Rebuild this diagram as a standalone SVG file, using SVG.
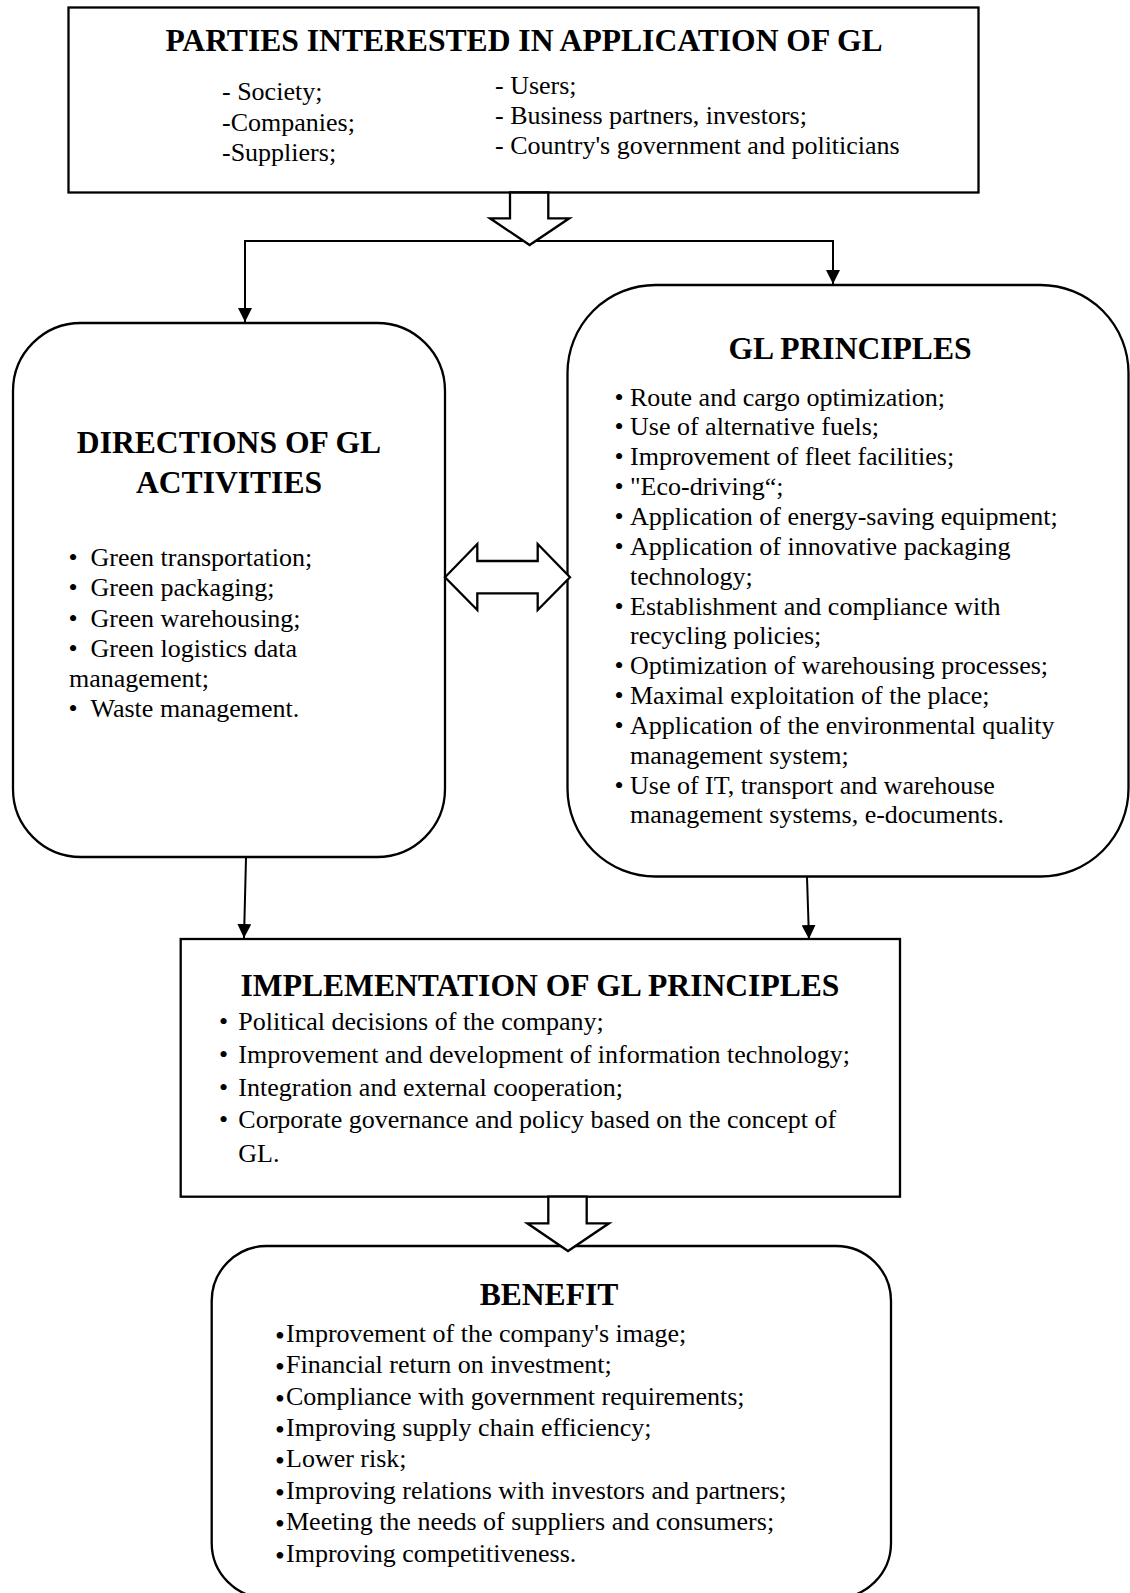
<svg xmlns="http://www.w3.org/2000/svg" width="1130" height="1593" viewBox="0 0 1130 1593">
<defs>
<style>
text{font-family:"Liberation Serif","Times New Roman",serif;fill:#000}
.t{font-size:31.6px;font-weight:bold;text-anchor:middle}
.b{font-size:26px}
.box{fill:#fff;stroke:#000;stroke-width:2.3}
.con{fill:none;stroke:#000;stroke-width:2}
.hol{fill:#fff;stroke:#000;stroke-width:2.3;stroke-linejoin:miter}
.bb{font-size:28px}
</style>
<marker id="ah" markerWidth="14" markerHeight="14" refX="14" refY="7" orient="auto" markerUnits="userSpaceOnUse"><path d="M0,0 L14,7 L0,14 z" fill="#000"/></marker>
</defs>
<rect width="1130" height="1593" fill="#fff"/>

<g id="parties">
<rect class="box" x="68.5" y="7.5" width="910" height="185"/>
<text class="t" x="524" y="51">PARTIES INTERESTED IN APPLICATION OF GL</text>
<text class="b" x="222" y="100">- Society;</text>
<text class="b" x="222" y="130.5">-Companies;</text>
<text class="b" x="222" y="160.5">-Suppliers;</text>
<text class="b" x="495" y="93.5">- Users;</text>
<text class="b" x="495" y="124">- Business partners, investors;</text>
<text class="b" x="495" y="154">- Country's government and politicians</text>
</g>

<g id="directions">
<rect class="box" x="13" y="323" width="432" height="534" rx="68" ry="68"/>
<text class="t" x="229" y="452.5">DIRECTIONS OF GL</text>
<text class="t" x="229" y="492.5">ACTIVITIES</text>
<text class="b" x="68.5" y="566">• <tspan x="90.5">Green transportation;</tspan></text>
<text class="b" x="68.5" y="596.3">• <tspan x="90.5">Green packaging;</tspan></text>
<text class="b" x="68.5" y="627">• <tspan x="90.5">Green warehousing;</tspan></text>
<text class="b" x="68.5" y="657">• <tspan x="90.5">Green logistics data</tspan></text>
<text class="b" x="69" y="686.6">management;</text>
<text class="b" x="68.5" y="716.5">• <tspan x="90.5">Waste management.</tspan></text>
</g>

<g id="principles">
<rect class="box" x="567.5" y="285" width="561" height="591.5" rx="88" ry="88"/>
<text class="t" x="850" y="359">GL PRINCIPLES</text>
<text class="b" x="614.5" y="405.5">• <tspan x="630">Route and cargo optimization;</tspan></text>
<text class="b" x="614.5" y="435.4">• <tspan x="630">Use of alternative fuels;</tspan></text>
<text class="b" x="614.5" y="465.2">• <tspan x="630">Improvement of fleet facilities;</tspan></text>
<text class="b" x="614.5" y="495.1">• <tspan x="630">"Eco-driving“;</tspan></text>
<text class="b" x="614.5" y="524.9">• <tspan x="630">Application of energy-saving equipment;</tspan></text>
<text class="b" x="614.5" y="554.8">• <tspan x="630">Application of innovative packaging</tspan></text>
<text class="b" x="630" y="584.6">technology;</text>
<text class="b" x="614.5" y="614.5">• <tspan x="630">Establishment and compliance with</tspan></text>
<text class="b" x="630" y="644.3">recycling policies;</text>
<text class="b" x="614.5" y="674.2">• <tspan x="630">Optimization of warehousing processes;</tspan></text>
<text class="b" x="614.5" y="704">• <tspan x="630">Maximal exploitation of the place;</tspan></text>
<text class="b" x="614.5" y="733.9">• <tspan x="630">Application of the environmental quality</tspan></text>
<text class="b" x="630" y="763.7">management system;</text>
<text class="b" x="614.5" y="793.6">• <tspan x="630">Use of IT, transport and warehouse</tspan></text>
<text class="b" x="630" y="823.4">management systems, e-documents.</text>
</g>

<g id="implementation">
<rect class="box" x="180.7" y="939" width="719.3" height="257.7"/>
<text class="t" x="540" y="995.7">IMPLEMENTATION OF GL PRINCIPLES</text>
<text class="b" x="219" y="1030">• <tspan x="238.3">Political decisions of the company;</tspan></text>
<text class="b" x="219" y="1062.5">• <tspan x="238.3">Improvement and development of information technology;</tspan></text>
<text class="b" x="219" y="1095.5">• <tspan x="238.3">Integration and external cooperation;</tspan></text>
<text class="b" x="219" y="1128">• <tspan x="238.3">Corporate governance and policy based on the concept of</tspan></text>
<text class="b" x="238.3" y="1161.5">GL.</text>
</g>

<g id="benefit">
<rect class="box" x="211.7" y="1246" width="679.3" height="352" rx="55" ry="55"/>
<text class="t" x="549" y="1305">BENEFIT</text>
<text class="b" x="275" y="1341.7"><tspan class="bb" dy="3">•</tspan><tspan x="286" y="1341.7">Improvement of the company's image;</tspan></text>
<text class="b" x="275" y="1373.1"><tspan class="bb" dy="3">•</tspan><tspan x="286" y="1373.1">Financial return on investment;</tspan></text>
<text class="b" x="275" y="1404.5"><tspan class="bb" dy="3">•</tspan><tspan x="286" y="1404.5">Compliance with government requirements;</tspan></text>
<text class="b" x="275" y="1435.9"><tspan class="bb" dy="3">•</tspan><tspan x="286" y="1435.9">Improving supply chain efficiency;</tspan></text>
<text class="b" x="275" y="1467.3"><tspan class="bb" dy="3">•</tspan><tspan x="286" y="1467.3">Lower risk;</tspan></text>
<text class="b" x="275" y="1498.7"><tspan class="bb" dy="3">•</tspan><tspan x="286" y="1498.7">Improving relations with investors and partners;</tspan></text>
<text class="b" x="275" y="1530.1"><tspan class="bb" dy="3">•</tspan><tspan x="286" y="1530.1">Meeting the needs of suppliers and consumers;</tspan></text>
<text class="b" x="275" y="1561.5"><tspan class="bb" dy="3">•</tspan><tspan x="286" y="1561.5">Improving competitiveness.</tspan></text>
</g>

<g id="connectors">
<polyline class="con" points="529,241 245,241 245,322" marker-end="url(#ah)"/>
<polyline class="con" points="529,241 833,241 833,284" marker-end="url(#ah)"/>
<line class="con" x1="246" y1="858" x2="244" y2="938" marker-end="url(#ah)"/>
<line class="con" x1="807" y1="877" x2="809" y2="939" marker-end="url(#ah)"/>
<polygon class="hol" points="510,192.5 548.3,192.5 548.3,218.3 569.3,218.3 529.6,245 490,218.3 510,218.3"/>
<polygon class="hol" points="548.3,1196.7 586.7,1196.7 586.7,1223.3 609,1223.3 568,1251 527.3,1223.3 548.3,1223.3"/>
<polygon class="hol" points="445,577.3 477.3,544 477.3,561 537.7,561 537.7,544 570,577.3 537.7,610 537.7,593.3 477.3,593.3 477.3,610"/>
</g>
</svg>
